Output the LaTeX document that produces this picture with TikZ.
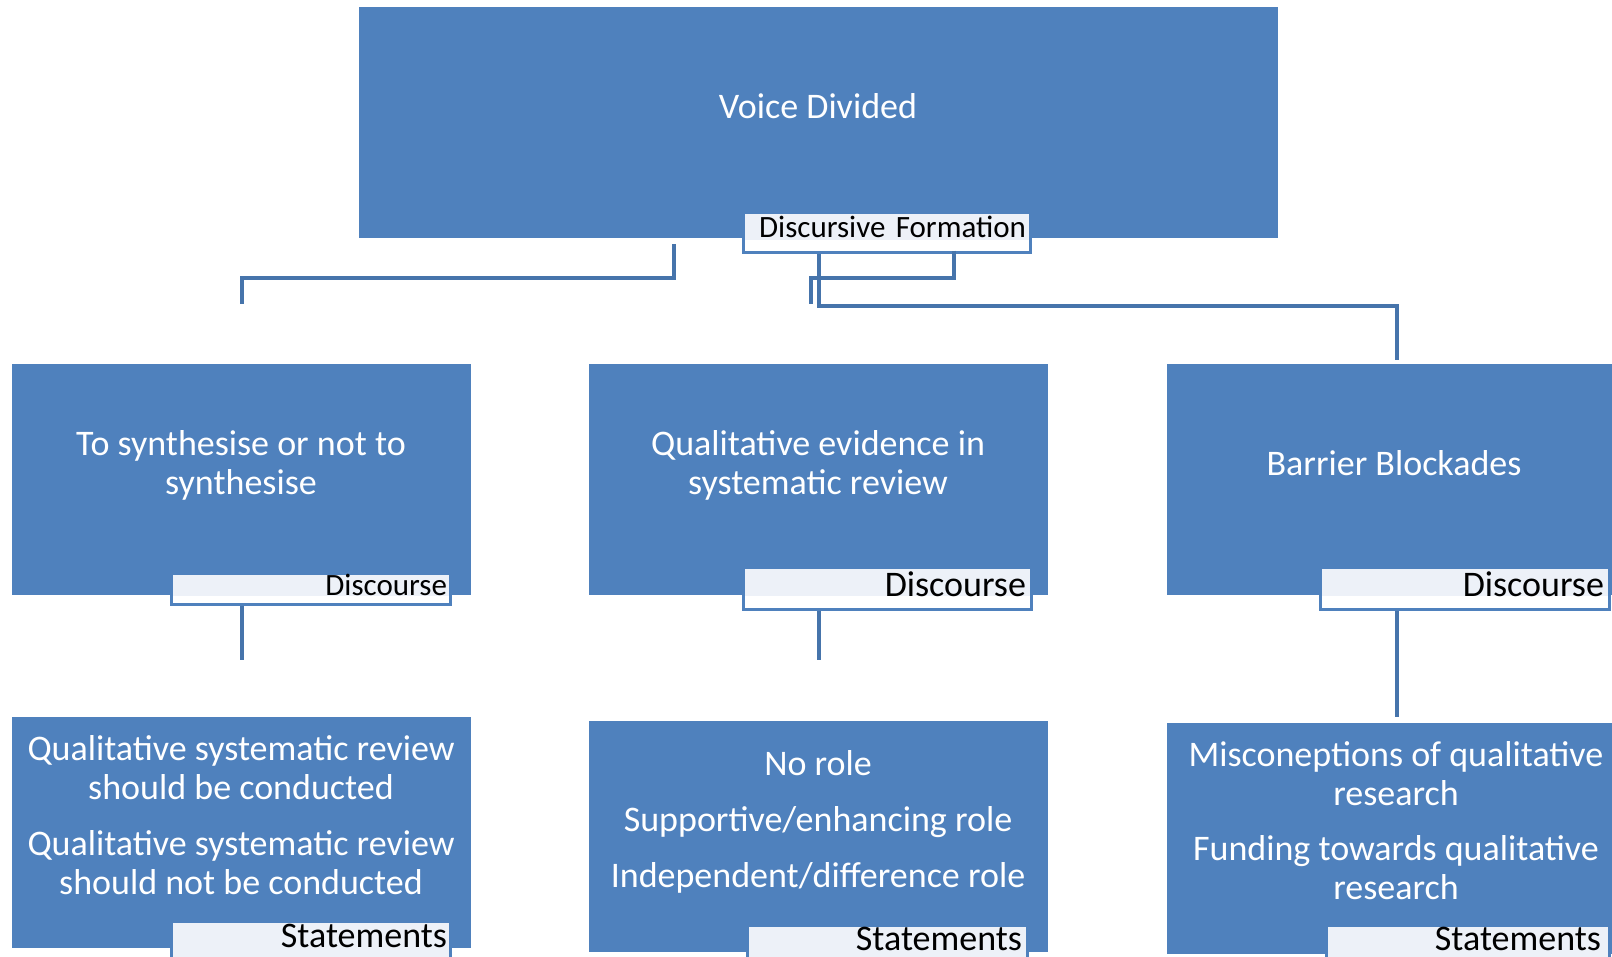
\documentclass[tikz,border=0pt]{standalone}
\usepackage{fontspec}
\setmainfont{Carlito}
\definecolor{boxblue}{HTML}{4F81BD}
\definecolor{linkblue}{HTML}{4674AB}
\definecolor{tagfill}{HTML}{EDF1F8}
\newcommand\boxfont{\fontsize{36}{39}\selectfont}
\newcommand\tagfont{\fontsize{36}{39}\selectfont}
\newcommand\smalltagfont{\fontsize{31}{36}\selectfont}
\tikzset{
  box/.style={fill=boxblue, minimum width=459pt, minimum height=231pt, inner sep=0pt},
  boxtext/.style={text=white, align=center, font=\boxfont, inner sep=0pt},
  tag/.style={draw=boxblue, line width=3pt, fill=tagfill, inner xsep=5pt, inner ysep=0pt,
    align=right, font=\tagfont, anchor=north east,
    path picture={\fill[white] (path picture bounding box.south west)
      rectangle ([yshift=#1]path picture bounding box.south east);}},
  tag/.default=13pt,
  link/.style={draw=linkblue, line width=4pt},
}
\begin{document}
\begin{tikzpicture}[x=1pt, y=-1pt]
    \clip (0,0) rectangle (1612,956);
    % boxes
    \node[box, minimum width=919pt] (voice) at (818.5,122.5) {};
    \node[box] (syn) at (241.5,479.5) {};
    \node[box] (evid) at (818.5,479.5) {};
    \node[box] (barr) at (1396.5,479.5) {};
    \node[box] (should) at (241.5,832.5) {};
    \node[box] (roles) at (818.5,836.5) {};
    \node[box] (funds) at (1396.5,838.5) {};
    % texts
    \node[boxtext] (voicet) at (818,106) {Voice Divided};
    \node[boxtext] (synt) at (241,465) {To synthesise or not to\\synthesise};
    \node[boxtext] (evidt) at (818,465) {Qualitative evidence in\\systematic review};
    \node[boxtext] (barrt) at (1394,463) {Barrier Blockades};
    \node[boxtext] (shouldt) at (241,815) {Qualitative systematic review\\should be conducted\\[17pt]
      Qualitative systematic review\\should not be conducted};
    \node[boxtext] (rolest) at (818,822) {No role\\[17pt]Supportive/enhancing role\\[17pt]
      Independent/difference role};
    \node[boxtext] (fundst) at (1396,821) {Misconeptions of qualitative\\research\\[16pt]
      Funding towards qualitative\\research};
    % tags
    \node[tag=12pt, font=\smalltagfont, inner xsep=4pt, text width=279pt, text height=25.5pt, text depth=14.5pt]
      (form) at (1031.5,210.5) {Discursive Formation};
    \node[tag=8pt, font=\smalltagfont, inner xsep=3pt, text width=273pt, text height=22.5pt, text depth=8.5pt]
      (disc1) at (451.5,571.5) {Discourse};
    \node[tag, text width=278pt, text height=29pt, text depth=13pt]
      (disc2) at (1032.5,565.5) {Discourse};
    \node[tag, text width=279pt, text height=29pt, text depth=13pt]
      (disc3) at (1610.5,565.5) {Discourse};
    \node[tag=0pt, inner xsep=3pt, text width=273pt, text height=26pt, text depth=22pt]
      (stat1) at (451.5,919.5) {Statements};
    \node[tag=0pt, text width=270pt, text height=25pt, text depth=22pt]
      (stat2) at (1028.5,923.5) {Statements};
    \node[tag=0pt, inner xsep=8pt, text width=267pt, text height=25pt, text depth=22pt]
      (stat3) at (1610.5,923.5) {Statements};
    % connectors
    \coordinate (f1) at (674,244);
    \coordinate (f2) at (954,250.5);
    \coordinate (t1) at (242,304);
    \coordinate (t2) at (811,304);
    \coordinate (t3) at (1396.5,360);
    \coordinate (e1) at (241.5,660);
    \coordinate (e2) at (818.5,660);
    \coordinate (e3) at (1396.5,717);
    \draw[link] (f1) -- ++(0,34) -| (t1);
    \draw[link] (f2) -- ++(0,27.5) -| (t2);
    \draw[link] (form.south -| evid.north) -- ++(0,52.5) -| (t3);
    \draw[link] (disc1.south -| syn.south) -- (e1);
    \draw[link] (disc2.south -| evid.south) -- (e2);
    \draw[link] (disc3.south -| barr.south) -- (e3);
\end{tikzpicture}
\end{document}
